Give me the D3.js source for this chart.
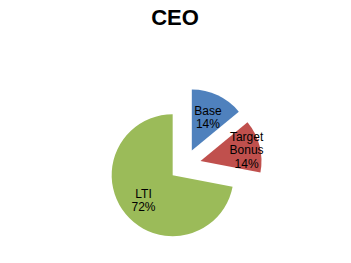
<!DOCTYPE html>
<html>
<head>
<meta charset="utf-8">
<script src="https://cdn.jsdelivr.net/npm/d3@7"></script>
<style>
  body { margin: 0; background: #fff; }
  text { font-family: "Liberation Sans", Arial, sans-serif; }
</style>
</head>
<body>
<div id="chart"></div>
<script>
var categories = ["Base", "Target Bonus", "LTI"];
var values = [14, 14, 72];
var colors = ["#4F81BD", "#C0504D", "#9BBB59"];

var width = 351, height = 263;
var cx = 185, cy = 165, radius = 61, explode = 16;
// how far out each label sits, as a share of the radius (best-fit placement)
var labelPos = [0.62, 0.78, 0.62];

var svg = d3.select("#chart")
    .append("svg")
    .attr("width", width)
    .attr("height", height);

svg.append("text")
    .attr("x", 175)
    .attr("y", 25)
    .attr("text-anchor", "middle")
    .style("font-size", "22px")
    .style("font-weight", "bold")
    .text("CEO");

var pie = d3.pie().sort(null).value(function(d) { return d; });
var arcs = pie(values);

var arc = d3.arc().innerRadius(0).outerRadius(radius);

var g = svg.append("g")
    .attr("transform", "translate(" + cx + "," + cy + ")");

var slice = g.selectAll("g.slice")
    .data(arcs)
    .enter()
    .append("g")
    .attr("class", "slice")
    .attr("transform", function(d) {
	var a = (d.startAngle + d.endAngle) / 2;
	return "translate(" + (Math.sin(a) * explode) + "," + (-Math.cos(a) * explode) + ")";
    });

slice.append("path")
    .attr("d", arc)
    .attr("fill", function(d, i) { return colors[i]; });

slice.each(function(d, i) {
    var r = radius * labelPos[i];
    var c = d3.arc().innerRadius(r).outerRadius(r).centroid(d);
    var lines = categories[i].split(" ");
    lines.push(values[i] + "%");
    var lh = 13.5;
    var t = d3.select(this).append("text")
	.attr("text-anchor", "middle")
	.style("font-size", "12px")
	.attr("fill", "#000");
    lines.forEach(function(l, j) {
	t.append("tspan")
	    .attr("x", c[0])
	    .attr("y", c[1] + 5 + (j - (lines.length - 1) / 2) * lh)
	    .text(l);
    });
});
</script>
</body>
</html>
